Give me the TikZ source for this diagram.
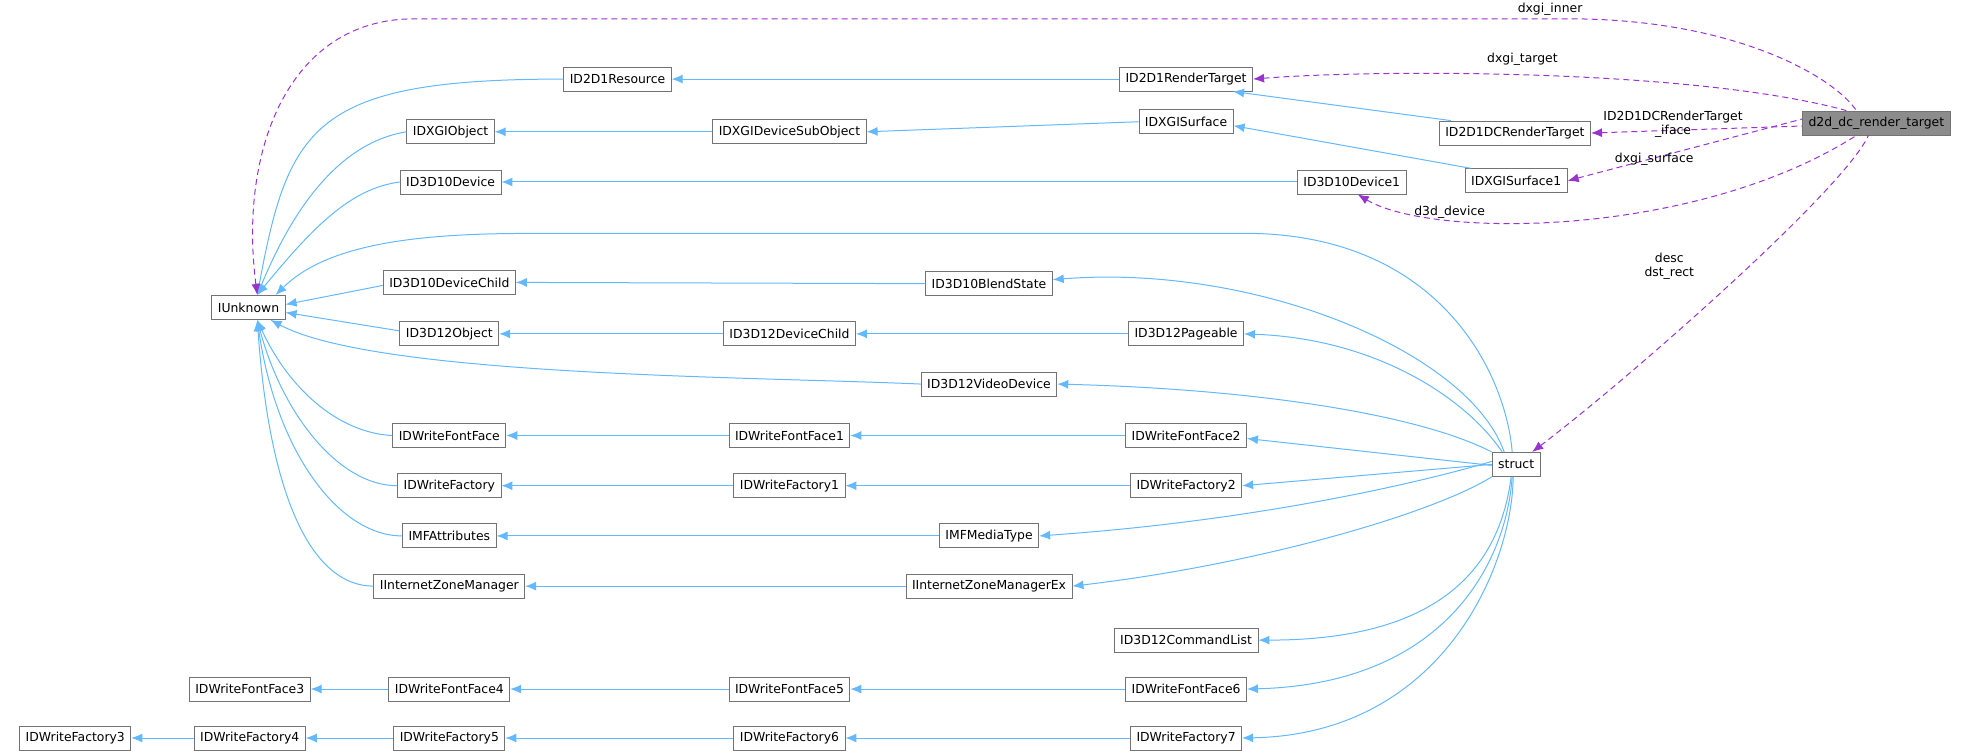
\documentclass[tikz,border=0pt]{standalone}
\usepackage{fontspec}
\setmainfont{DejaVu Sans}
\usetikzlibrary{arrows.meta}
\definecolor{eb}{HTML}{63B8FF}
\definecolor{ep}{HTML}{9A32CD}
\begin{document}
\begin{tikzpicture}[x=1.255pt,y=-1.255pt,
  box/.style={draw=black!55,line width=0.9pt,fill=white,minimum height=24pt,inner xsep=6pt,inner ysep=0pt,font=\fontsize{12.4}{14}\selectfont},
  inh/.style={draw=eb,line width=1pt,{Latex[length=11pt,width=9pt]}-},
  mem/.style={draw=ep,line width=1pt,dashed,dash pattern=on 6pt off 4pt,{Latex[length=11pt,width=9pt]}-},
  lab/.style={font=\fontsize{12.4}{14}\selectfont,align=center,inner sep=0pt}]
\useasboundingbox (0,0) rectangle (1568,600);
\node[box,fill=black!45] (d2d) at (1495,98) {d2d\_dc\_render\_target};
\node[box] (dcrt) at (1207,106) {ID2D1DCRenderTarget};
\node[box] (surf1) at (1208,144) {IDXGISurface1};
\node[box] (rt) at (945,63) {ID2D1RenderTarget};
\node[box] (surf) at (945,97) {IDXGISurface};
\node[box] (dev1) at (1077,145) {ID3D10Device1};
\node[box] (res) at (492,63) {ID2D1Resource};
\node[box] (obj) at (359,105) {IDXGIObject};
\node[box] (dso) at (629,105) {IDXGIDeviceSubObject};
\node[box] (dev) at (359,145) {ID3D10Device};
\node[box] (unk) at (198,245) {IUnknown};
\node[box] (dc10) at (358,225) {ID3D10DeviceChild};
\node[box] (blend) at (788,226) {ID3D10BlendState};
\node[box] (o12) at (358,266) {ID3D12Object};
\node[box] (dc12) at (629,266) {ID3D12DeviceChild};
\node[box] (page) at (945,266) {ID3D12Pageable};
\node[box] (vid) at (788,306) {ID3D12VideoDevice};
\node[box] (ff) at (358,347) {IDWriteFontFace};
\node[box] (ff1) at (629,347) {IDWriteFontFace1};
\node[box] (ff2) at (945,347) {IDWriteFontFace2};
\node[box] (fa) at (358,387) {IDWriteFactory};
\node[box] (fa1) at (629,387) {IDWriteFactory1};
\node[box] (fa2) at (945,387) {IDWriteFactory2};
\node[box] (mfa) at (358,427) {IMFAttributes};
\node[box] (mft) at (788,427) {IMFMediaType};
\node[box] (izm) at (358,467) {IInternetZoneManager};
\node[box] (izmx) at (788,467) {IInternetZoneManagerEx};
\node[box] (st) at (1208,370) {struct};
\node[box] (cl) at (945,510) {ID3D12CommandList};
\node[box] (ff3) at (199,549) {IDWriteFontFace3};
\node[box] (ff4) at (358,549) {IDWriteFontFace4};
\node[box] (ff5) at (629,549) {IDWriteFontFace5};
\node[box] (ff6) at (945,549) {IDWriteFontFace6};
\node[box] (fa3) at (60,588) {IDWriteFactory3};
\node[box] (fa4) at (199,588) {IDWriteFactory4};
\node[box] (fa5) at (358,588) {IDWriteFactory5};
\node[box] (fa6) at (629,588) {IDWriteFactory6};
\node[box] (fa7) at (945,588) {IDWriteFactory7};
\coordinate (ut) at (205,235);
\coordinate (ub) at (205,255);
% straight inheritance
\foreach \a/\b in {res/rt,obj/dso,dso/surf,dev/dev1,dc10/blend,dc12/page,o12/dc12,ff/ff1,ff1/ff2,fa/fa1,fa1/fa2,mfa/mft,izm/izmx,ff3/ff4,ff4/ff5,ff5/ff6,fa3/fa4,fa4/fa5,fa5/fa6,fa6/fa7}
  \draw[inh] (\a.east) -- (\b.west);
\draw[inh] ([xshift=-20pt]rt.south east) -- ([xshift=12pt]dcrt.north west);
\draw[inh] ([yshift=-4pt]surf.east) -- ([xshift=6pt]surf1.north west);
\draw[inh] ([yshift=3pt]unk.east) -- ([yshift=-3pt]dc10.west);
\draw[inh] ([yshift=-5pt]unk.east) -- ([yshift=3pt]o12.west);
% IUnknown curves
\draw[inh] (ut) .. controls (230,100) and (250,63) .. (res.west);
\draw[inh] (ut) .. controls (240,150) and (280,112) .. (obj.west);
\draw[inh] (ut) .. controls (250,180) and (280,150) .. (dev.west);
\draw[inh] ([xshift=-10pt]unk.north east) .. controls (260,195) and (330,186) .. (420,186) -- (1000,186) .. controls (1150,190) and (1200,300) .. ([xshift=-4pt]st.north);
\draw[inh] ([xshift=-15pt]unk.south east) .. controls (300,300) and (600,300) .. (vid.west);
\draw[inh] (ub) .. controls (230,310) and (270,345) .. (ff.west);
\draw[inh] (ub) .. controls (225,330) and (270,387) .. (fa.west);
\draw[inh] (ub) .. controls (220,360) and (270,427) .. (mfa.west);
\draw[inh] (ub) .. controls (215,400) and (250,467) .. (izm.west);
% struct curves
\draw[inh] ([yshift=4pt]blend.east) .. controls (1000,210) and (1170,280) .. ([xshift=-12pt]st.north);
\draw[inh] (page.east) .. controls (1100,270) and (1170,320) .. ([xshift=-14pt]st.north);
\draw[inh] (vid.east) .. controls (1000,310) and (1130,330) .. (st.north west);
\draw[inh] ([yshift=-3pt]ff2.east) -- ([yshift=-1pt]st.west);
\draw[inh] (fa2.east) -- (st.west);
\draw[inh] (mft.east) .. controls (1000,415) and (1130,385) .. ([yshift=3pt]st.west);
\draw[inh] (izmx.east) .. controls (1000,450) and (1140,410) .. (st.south west);
\draw[inh] (cl.east) .. controls (1150,510) and (1195,450) .. ([xshift=-5pt]st.south);
\draw[inh] (ff6.east) .. controls (1150,545) and (1200,450) .. ([xshift=-4pt]st.south);
\draw[inh] (fa7.east) .. controls (1150,585) and (1205,450) .. ([xshift=-3pt]st.south);
% members
\draw[mem] (ut) .. controls (190,120) and (230,15) .. (330,15) -- (1250,15) .. controls (1380,15) and (1460,60) .. ([xshift=-20pt]d2d.north);
\node[lab] at (1235,7) {dxgi\_inner};
\draw[mem] (rt.east) .. controls (1100,55) and (1350,55) .. ([xshift=-30pt]d2d.north);
\node[lab] at (1213,47) {dxgi\_target};
\draw[mem] (dcrt.east) -- ([yshift=-3pt]d2d.west);
\node[lab] at (1333,99) {ID2D1DCRenderTarget\\\_iface};
\draw[mem] (surf1.east) -- ([yshift=4pt]d2d.west);
\node[lab] at (1318,127) {dxgi\_surface};
\draw[mem] ([xshift=6pt]dev1.south) .. controls (1140,190) and (1350,190) .. ([xshift=-20pt]d2d.south);
\node[lab] at (1155,169) {d3d\_device};
\draw[mem] ([xshift=16pt]st.north) .. controls (1300,300) and (1470,150) .. ([xshift=-8pt]d2d.south);
\node[lab] at (1330,212) {desc\\dst\_rect};
\end{tikzpicture}
\end{document}
